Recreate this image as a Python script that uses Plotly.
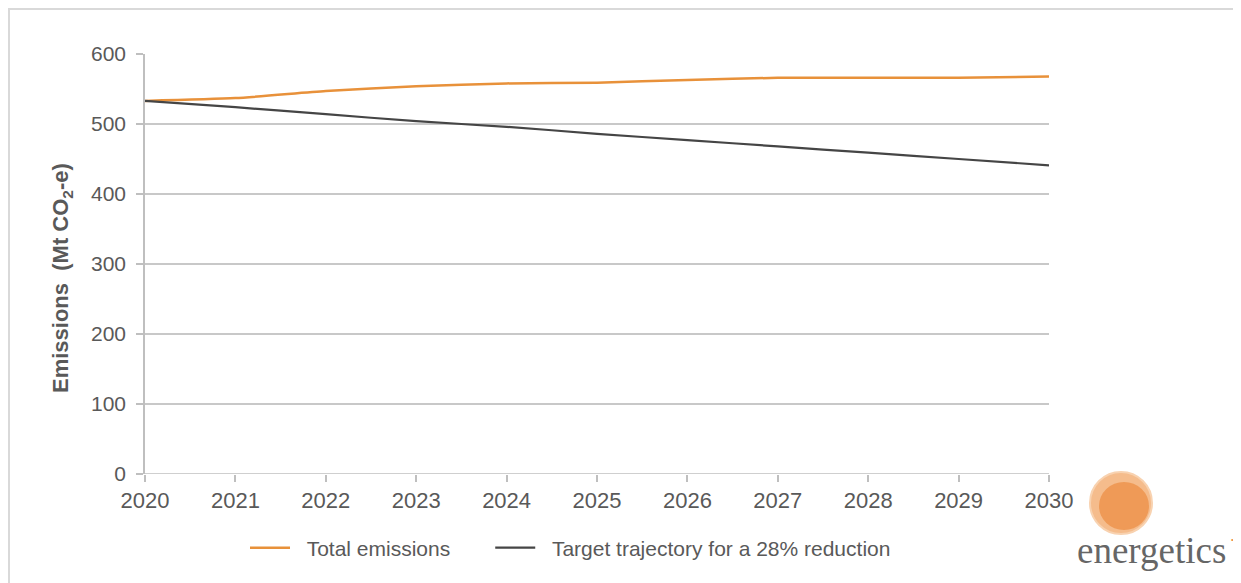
import plotly.graph_objects as go

years = [2020, 2021, 2022, 2023, 2024, 2025, 2026, 2027, 2028, 2029, 2030]
total_emissions = [533, 537, 547, 554, 558, 559, 563, 566, 566, 566, 568]
target_trajectory = [533, 524, 514, 504, 496, 486, 477, 468, 459, 450, 441]
y_ticks = [0, 100, 200, 300, 400, 500, 600]
series_names = ["Total emissions", "Target trajectory for a 28% reduction"]

W, H = 1233, 575
L, R, T, B = 137, 192, 46, 109
PW, PH = W - L - R, H - T - B

def px(x):
    return (x - L) / PW

def py(y):
    return (H - B - y) / PH

NB = "\u00a0"

fig = go.Figure()
fig.add_trace(go.Scatter(x=years, y=total_emissions, mode="lines",
                         name=NB * 2 + series_names[0] + NB * 6,
                         line=dict(color="#E8913A", width=2.5, shape="spline", smoothing=0.6)))
fig.add_trace(go.Scatter(x=years, y=target_trajectory, mode="lines",
                         name=NB * 2 + series_names[1],
                         line=dict(color="#454545", width=2.2, shape="spline", smoothing=0.6)))

fig.update_layout(
    width=W, height=H,
    margin=dict(l=L, r=R, t=T, b=B),
    paper_bgcolor="white", plot_bgcolor="white",
    font=dict(family="Liberation Sans, Arial, sans-serif", color="#595959"),
    showlegend=True,
    legend=dict(orientation="h", x=px(237), y=py(540), xanchor="left", yanchor="middle",
                font=dict(size=21, color="#595959"), itemwidth=40,
                bgcolor="rgba(0,0,0,0)"),
    xaxis=dict(range=[2020, 2030], tickvals=years, ticktext=[str(y) for y in years],
               showgrid=False, showline=False, zeroline=False,
               ticks="outside", ticklen=7, tickcolor="#BFBFBF", tickwidth=1.5,
               tickfont=dict(size=22, color="#595959")),
    yaxis=dict(range=[0, 600], tickvals=y_ticks, showgrid=True, gridcolor="#C8C8C8", gridwidth=1.5,
               showline=True, linecolor="#BFBFBF", linewidth=1.5, zeroline=False,
               ticks="outside", ticklen=7, tickcolor="#BFBFBF", tickwidth=1.5,
               ticklabelstandoff=6,
               tickfont=dict(size=21, color="#595959")),
)

# y axis title
fig.add_annotation(xref="paper", yref="paper", x=px(54), y=py(270),
                   text="<b>Emissions  (Mt CO<sub>2</sub>-e)</b>", textangle=-90,
                   showarrow=False, font=dict(size=22, color="#595959"),
                   xanchor="center", yanchor="middle")

# x axis baseline at 0
fig.add_shape(type="line", xref="paper", yref="y", x0=0, x1=1, y0=0, y1=0,
              line=dict(color="#BFBFBF", width=1.5))

# outer frame (top and left edges)
fig.add_shape(type="line", xref="paper", yref="paper", x0=px(0), x1=px(W), y0=py(1), y1=py(1),
              line=dict(color="#D9D9D9", width=2))
fig.add_shape(type="line", xref="paper", yref="paper", x0=px(1), x1=px(1), y0=py(0), y1=py(H),
              line=dict(color="#D9D9D9", width=2))

# logo
cx, cy, r = 1113, 495, 31
fig.add_shape(type="circle", xref="paper", yref="paper", x0=px(cx - r), x1=px(cx + r),
              y0=py(cy + r), y1=py(cy - r),
              fillcolor="#F5BC8C", line=dict(color="#F8D2B0", width=2))
fig.add_shape(type="circle", xref="paper", yref="paper", x0=px(cx - 22), x1=px(cx + 28),
              y0=py(cy + 27), y1=py(cy - 21),
              fillcolor="#EC8F45", line=dict(width=0), opacity=0.75)
fig.add_annotation(xref="paper", yref="paper", x=px(1143), y=py(542), text="energetics",
                   showarrow=False, font=dict(family="Liberation Serif, serif", size=37, color="#666666"),
                   xanchor="center", yanchor="middle")
fig.add_annotation(xref="paper", yref="paper", x=px(1224), y=py(531), text="•",
                   showarrow=False, font=dict(size=8, color="#EC8F45"),
                   xanchor="center", yanchor="middle")

fig.write_html("out.html")
